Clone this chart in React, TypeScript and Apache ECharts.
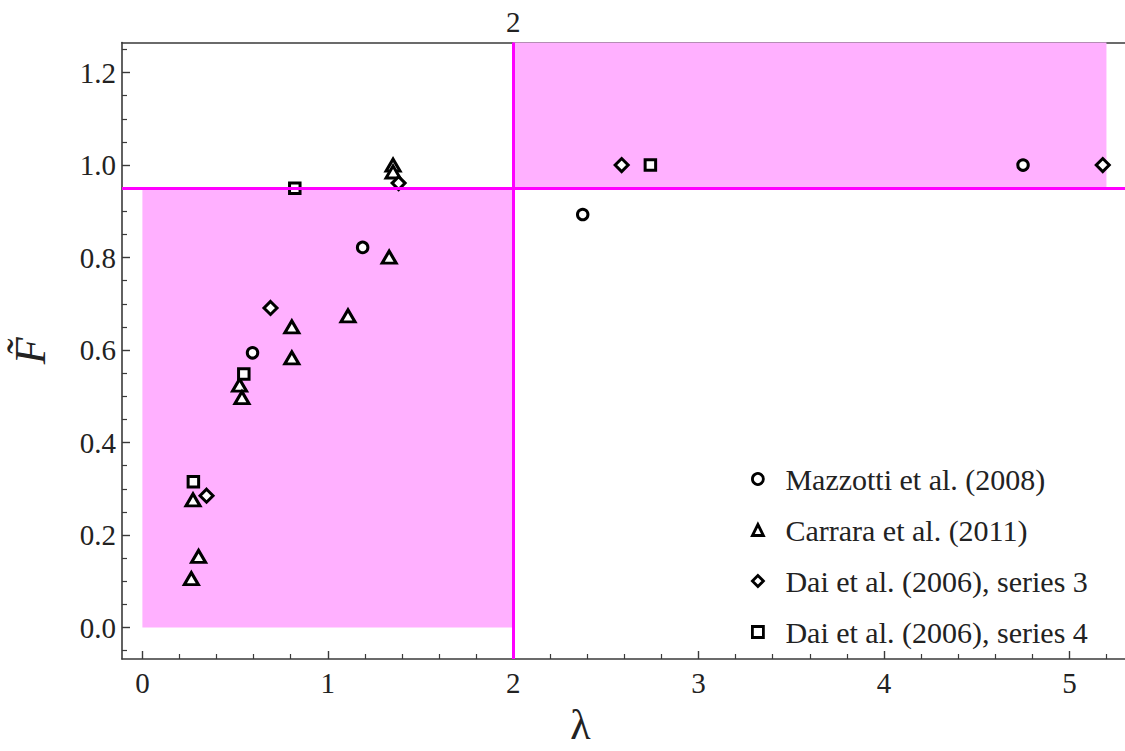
import React, { useEffect, useRef } from 'react';
import * as echarts from 'echarts';

// Axis ranges and ticks
const xMin = -0.11;
const xMax = 5.3;
const yMin = -0.068;
const yMax = 1.265;
const xMajorTicks = [0, 1, 2, 3, 4, 5];
const xMinorTicks = [0.2, 0.4, 0.6, 0.8, 1.2, 1.4, 1.6, 1.8, 2.2, 2.4, 2.6, 2.8, 3.2, 3.4, 3.6, 3.8, 4.2, 4.4, 4.6, 4.8, 5.2];
const yMajorTicks = [0, 0.2, 0.4, 0.6, 0.8, 1.0, 1.2];
const yMinorTicks = [-0.05, 0.05, 0.1, 0.15, 0.25, 0.3, 0.35, 0.45, 0.5, 0.55, 0.65, 0.7, 0.75, 0.85, 0.9, 0.95, 1.05, 1.1, 1.15, 1.25];
const topTicks = [2];

// Thresholds
const lambdaThreshold = 2;
const fThreshold = 0.95;
const upperRegionEnd = 5.2;

// Series data [lambda, F~]
const mazzotti = [[0.594, 0.594], [1.188, 0.822], [2.375, 0.893], [4.75, 1.0]];
const carrara = [
  [0.264, 0.106], [0.303, 0.154], [0.273, 0.276], [0.524, 0.524], [0.537, 0.497],
  [0.806, 0.583], [0.806, 0.65], [1.109, 0.674], [1.331, 0.801], [1.352, 1.0], [1.352, 0.985],
];
const daiS3 = [[0.346, 0.285], [0.691, 0.691], [1.382, 0.961], [2.585, 1.0], [5.18, 1.0]];
const daiS4 = [[0.275, 0.315], [0.547, 0.548], [0.822, 0.95], [2.74, 1.0]];

const names = ['Mazzotti et al. (2008)', 'Carrara et al. (2011)', 'Dai et al. (2006), series 3', 'Dai et al. (2006), series 4'];

const FONT = '"Liberation Serif", "DejaVu Serif", serif';
const AXIS_COLOR = '#3a3a3a';
const TEXT_COLOR = '#222';
const MAGENTA = '#ff00ff';
const PINK = '#ffb0ff';

const markerStyle = { color: '#ffffff', borderColor: '#000000', borderWidth: 3, opacity: 1 };

export default function App() {
  const ref = useRef<HTMLDivElement>(null);
  useEffect(() => {
    const chart = echarts.init(ref.current!, null, { renderer: 'svg' });
    const option: any = {
      animation: false,
      backgroundColor: '#ffffff',
      grid: { left: 122, top: 42.5, right: 0, bottom: 87, containLabel: false },
      xAxis: [
        {
          type: 'value', position: 'bottom', min: xMin, max: xMax,
          name: 'λ', nameLocation: 'middle', nameGap: 45,
          nameTextStyle: { fontFamily: FONT, fontSize: 42, color: TEXT_COLOR, padding: [0, 86, 0, 0] },
          axisLine: { show: true, onZero: false, lineStyle: { color: AXIS_COLOR, width: 1.6 } },
          axisTick: { show: true, inside: true, length: 8, customValues: xMajorTicks, lineStyle: { color: AXIS_COLOR, width: 1.4 } },
          axisLabel: { show: true, customValues: xMajorTicks, margin: 9, fontFamily: FONT, fontSize: 29, color: TEXT_COLOR },
          splitLine: { show: false },
        },
        {
          type: 'value', position: 'bottom', min: xMin, max: xMax,
          axisLine: { show: false, onZero: false },
          axisTick: { show: true, inside: true, length: 5, customValues: xMinorTicks, lineStyle: { color: AXIS_COLOR, width: 1.2 } },
          axisLabel: { show: false },
          splitLine: { show: false },
        },
        {
          type: 'value', position: 'top', min: xMin, max: xMax,
          axisLine: { show: true, onZero: false, lineStyle: { color: AXIS_COLOR, width: 1.6 } },
          axisTick: { show: false },
          axisLabel: { show: true, customValues: topTicks, margin: 6, fontFamily: FONT, fontSize: 29, color: TEXT_COLOR },
          splitLine: { show: false },
        },
      ],
      yAxis: [
        {
          type: 'value', position: 'left', min: yMin, max: yMax,
          name: 'F\u0303', nameLocation: 'middle', nameGap: 70, nameRotate: 90,
          nameTextStyle: { fontFamily: FONT, fontSize: 44, fontStyle: 'italic', color: TEXT_COLOR },
          axisLine: { show: true, onZero: false, lineStyle: { color: AXIS_COLOR, width: 1.6 } },
          axisTick: { show: true, inside: true, length: 8, customValues: yMajorTicks, lineStyle: { color: AXIS_COLOR, width: 1.4 } },
          axisLabel: {
            show: true, customValues: yMajorTicks, margin: 6, fontFamily: FONT, fontSize: 29, color: TEXT_COLOR,
            formatter: (v: number) => v.toFixed(1),
          },
          splitLine: { show: false },
        },
        {
          type: 'value', position: 'left', min: yMin, max: yMax,
          axisLine: { show: false, onZero: false },
          axisTick: { show: true, inside: true, length: 5, customValues: yMinorTicks, lineStyle: { color: AXIS_COLOR, width: 1.2 } },
          axisLabel: { show: false },
          splitLine: { show: false },
        },
      ],
      legend: {
        orient: 'vertical', left: 751, top: 464, padding: 0,
        itemWidth: 11, itemHeight: 11, itemGap: 21,
        data: names,
        itemStyle: { borderWidth: 2.8, borderColor: '#000', color: '#fff', opacity: 1 },
        textStyle: { fontFamily: FONT, fontSize: 30, color: TEXT_COLOR, lineHeight: 30, padding: [0, 0, 0, 17] },
      },
      graphic: [
        {
          type: 'text', right: 23, top: 48,
          style: { text: '(b)', fontFamily: FONT, fontSize: 30, fill: TEXT_COLOR },
        },
      ],
      series: [
        {
          type: 'scatter', name: 'regions', data: [], z: 1, silent: true,
          markArea: {
            silent: true,
            itemStyle: { color: PINK, opacity: 1 },
            data: [
              [{ xAxis: 0, yAxis: 0 }, { xAxis: lambdaThreshold, yAxis: fThreshold }],
              [{ xAxis: lambdaThreshold, yAxis: fThreshold }, { xAxis: upperRegionEnd, yAxis: yMax }],
            ],
          },
        },
        {
          type: 'scatter', name: 'thresholds', data: [], z: 2, silent: true,
          markLine: {
            silent: true, symbol: 'none', label: { show: false },
            lineStyle: { color: MAGENTA, width: 3, type: 'solid', opacity: 1 },
            data: [{ yAxis: fThreshold }, { xAxis: lambdaThreshold }],
          },
        },
        { type: 'scatter', name: names[0], data: mazzotti, symbol: 'circle', symbolSize: 10.5, itemStyle: markerStyle, z: 3 },
        { type: 'scatter', name: names[1], data: carrara, symbol: 'triangle', symbolSize: [14, 12], itemStyle: markerStyle, z: 3 },
        { type: 'scatter', name: names[2], data: daiS3, symbol: 'diamond', symbolSize: 13, itemStyle: markerStyle, z: 3 },
        { type: 'scatter', name: names[3], data: daiS4, symbol: 'rect', symbolSize: 10.5, itemStyle: markerStyle, z: 3 },
      ],
    };
    chart.setOption(option);
    return () => chart.dispose();
  }, []);
  return <div ref={ref} style={{ position: 'absolute', left: 0, top: 0, width: 1125, height: 751 }} />;
}
